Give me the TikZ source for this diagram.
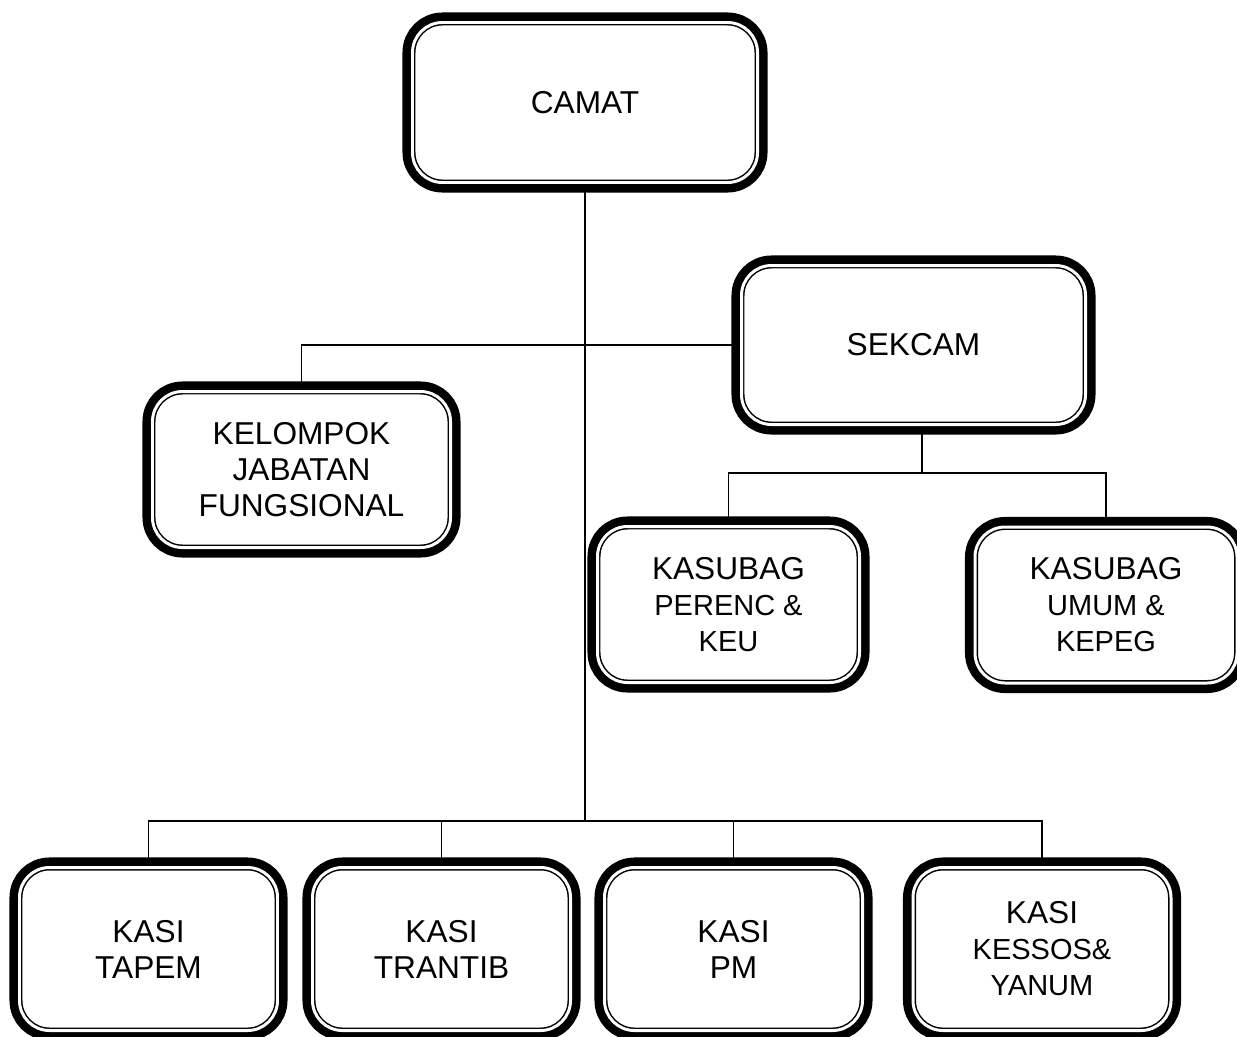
\documentclass[tikz,border=0pt]{standalone}
\usepackage{fontspec}
\setmainfont{Liberation Sans}
\usetikzlibrary{backgrounds}
\newcommand{\kecil}[1]{{\fontsize{16.5}{20.5}\selectfont #1}}

\begin{document}
\begin{tikzpicture}[
        jabatan/.style={rectangle, rounded corners=0.6cm, fill=white, draw=black,
            line width=0.85pt, double=white, double distance=1.7pt,
            preaction={draw=black, line width=11.4pt},
            align=center, inner sep=0pt, font=\fontsize{18}{20.5}\selectfont},
        garis/.style={draw=black, line width=1.1pt}
    ]
        \useasboundingbox (0,0) rectangle (24.74,-20.72);
        % kotak-kotak jabatan
        \node[jabatan, minimum width=6.90cm, minimum height=3.20cm] (camat) at (11.70,-2.05) {CAMAT};
        \node[jabatan, minimum width=6.88cm, minimum height=3.18cm] (sekcam) at (18.27,-6.90) {SEKCAM};
        \node[jabatan, minimum width=5.96cm, minimum height=3.12cm] (kelompok) at (6.03,-9.39) {KELOMPOK\\JABATAN\\FUNGSIONAL};
        \node[jabatan, minimum width=5.24cm, minimum height=3.12cm] (perenc) at (14.57,-12.09) {KASUBAG\\\kecil{PERENC \&}\\\kecil{KEU}};
        \node[jabatan, minimum width=5.24cm, minimum height=3.12cm] (umum) at (22.12,-12.10) {KASUBAG\\\kecil{UMUM \&}\\\kecil{KEPEG}};
        \node[jabatan, minimum width=5.16cm, minimum height=3.26cm] (tapem) at (2.97,-18.98) {KASI\\TAPEM};
        \node[jabatan, minimum width=5.16cm, minimum height=3.26cm] (trantib) at (8.83,-18.98) {KASI\\TRANTIB};
        \node[jabatan, minimum width=5.16cm, minimum height=3.26cm] (pm) at (14.67,-18.98) {KASI\\PM};
        \node[jabatan, minimum width=5.16cm, minimum height=3.26cm] (kessos) at (20.84,-18.98) {KASI\\\kecil{KESSOS\&}\\\kecil{YANUM}};
        % garis komando
        \begin{scope}[on background layer]
            \coordinate (kasibus) at (11.70,-16.42);
            \coordinate (sekbus) at (18.44,-9.46);
            \draw[garis] (camat.south) -- (kasibus);
            \draw[garis] (kelompok.north) |- (sekcam.west);
            \draw[garis] (sekcam.south -| sekbus) -- (sekbus);
            \draw[garis] (perenc.north) |- (sekbus) -| (umum.north);
            \draw[garis] (tapem.north) |- (kasibus) -| (kessos.north);
            \draw[garis] (trantib.north) -- (trantib.north |- kasibus);
            \draw[garis] (pm.north) -- (pm.north |- kasibus);
        \end{scope}
    \end{tikzpicture}
\end{document}
